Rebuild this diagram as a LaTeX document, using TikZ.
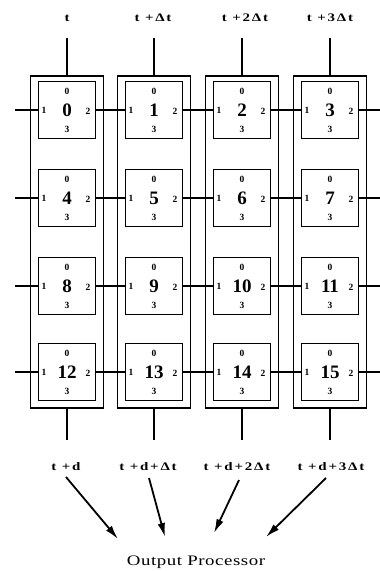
\documentclass[tikz,border=0pt]{standalone}
\usepackage{fontspec}
\usepackage{graphicx}
\setmainfont{Liberation Serif}
\usetikzlibrary{arrows.meta}
\newcommand{\widelab}[2]{\scalebox{1.3}[1]{\addfontfeature{LetterSpace=#1}#2}}
\begin{document}
\begin{tikzpicture}[x=1pt,y=-1pt,
  cell/.style={draw,line width=1.4pt,minimum width=57pt,minimum height=57pt,inner sep=0pt,font=\fontsize{19}{19}\selectfont\bfseries},
  colbox/.style={draw,line width=1.4pt,minimum width=73pt,minimum height=332pt,inner sep=0pt},
  port/.style={font=\fontsize{9.5}{10}\selectfont\bfseries,inner sep=0pt},
  lab/.style={font=\fontsize{11.5}{12}\selectfont\bfseries,inner sep=0pt,anchor=base},
  wire/.style={line width=1.1pt},
  outarrow/.style={line width=1.8pt,-{Latex[length=14pt,width=7.5pt]}}]
\useasboundingbox (0,0) rectangle (380,571);
% columns
\foreach \c/\cx in {0/67,1/154,2/242,3/330}{
  \node[colbox] (col\c) at (\cx,242) {};
  \coordinate (top\c) at (\cx,38);
  \coordinate (bot\c) at (\cx,440);
  \draw[wire,line width=1.4pt] (top\c) -- (col\c.north);
  \draw[wire,line width=1.4pt] (col\c.south) -- (bot\c);
}
% cells
\foreach \r/\cy in {0/110,1/198,2/286,3/372}{
  \foreach \c/\cx in {0/67,1/154,2/242,3/330}{
    \pgfmathtruncatemacro{\n}{4*\r+\c}
    \node[cell] (b\n) at (\cx,\cy) {\n};
    \node[port] (p0\n) at ([yshift=19pt]b\n.center) {0};
    \node[port] (p3\n) at ([yshift=-19pt]b\n.center) {3};
    \node[port] (p1\n) at ([xshift=-23pt]b\n.center) {1};
    \node[port] (p2\n) at ([xshift=21pt,yshift=-1pt]b\n.center) {2};
  }
}
% horizontal wires
\foreach \r/\cy in {0/110,1/198,2/286,3/372}{
  \pgfmathtruncatemacro{\a}{4*\r}
  \pgfmathtruncatemacro{\bb}{4*\r+1}
  \pgfmathtruncatemacro{\cc}{4*\r+2}
  \pgfmathtruncatemacro{\d}{4*\r+3}
  \coordinate (L\r) at (15,\cy);
  \coordinate (R\r) at (380,\cy);
  \draw[wire] (L\r) -- (b\a.west);
  \draw[wire] (b\a.east) -- (b\bb.west);
  \draw[wire] (b\bb.east) -- (b\cc.west);
  \draw[wire] (b\cc.east) -- (b\d.west);
  \draw[wire] (b\d.east) -- (R\r);
}
% labels
\node[lab] (t0) at (67,21) {\widelab{12}{t}};
\node[lab] (t1) at (153,21) {\widelab{12}{t +Δt}};
\node[lab] (t2) at (245,21) {\widelab{12}{t +2Δt}};
\node[lab] (t3) at (330,21) {\widelab{12}{t +3Δt}};
\node[lab] (d0) at (66,470) {\widelab{12}{t +d}};
\node[lab] (d1) at (148,470) {\widelab{12}{t +d+Δt}};
\node[lab] (d2) at (237,470) {\widelab{12}{t +d+2Δt}};
\node[lab] (d3) at (331,470) {\widelab{12}{t +d+3Δt}};
\node[lab,font=\fontsize{14.5}{15}\selectfont] (op) at (196,565) {\widelab{3}{Output Processor}};
\coordinate (s0) at (66,477);
\coordinate (s1) at (149,478);
\coordinate (s2) at (239,480);
\coordinate (s3) at (326,478);
\coordinate (e0) at (118,539);
\coordinate (e1) at (165,537);
\coordinate (e2) at (214,533);
\coordinate (e3) at (266,537);
\foreach \i in {0,1,2,3}{ \draw[outarrow] (s\i) -- (e\i); }
\end{tikzpicture}
\end{document}
